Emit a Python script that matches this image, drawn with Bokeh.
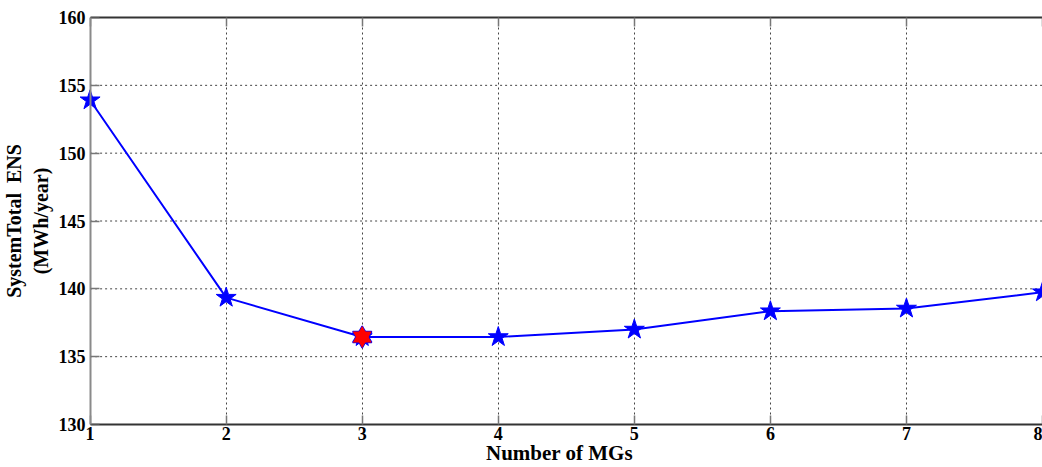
from bokeh.plotting import figure
from bokeh.models import Range1d, FixedTicker, ColumnDataSource, LinearAxis
from bokeh.embed import file_html
from bokeh.resources import INLINE

mgs = [1, 2, 3, 4, 5, 6, 7, 8]
ens = [153.9, 139.35, 136.45, 136.45, 137.0, 138.35, 138.55, 139.75]
best_mg = [3]
best_ens = [136.45]
x_ticks = [1, 2, 3, 4, 5, 6, 7, 8]
y_ticks = [130, 135, 140, 145, 150, 155, 160]

FONT = "Liberation Serif"

p = figure(width=1042, height=467, output_backend="svg", toolbar_location=None,
           x_range=Range1d(0.90, 8), y_range=Range1d(130, 160),
           min_border_left=60, min_border_right=0, min_border_top=17, min_border_bottom=43)

bottom = p.below[0]
left_lbl = p.left[0]

# horizontal grid lines from the first to the last x tick
p.ygrid.visible = False
gsrc = ColumnDataSource(dict(x0=[x_ticks[0]] * len(y_ticks), x1=[x_ticks[-1]] * len(y_ticks),
                             y=y_ticks))
p.segment(x0="x0", x1="x1", y0="y", y1="y", source=gsrc, line_color="#444444",
          line_dash="2 3", line_width=1, level="underlay")

p.line(mgs, ens, line_color="#0000ff", line_width=2)
p.scatter(mgs, ens, marker="star", size=21, fill_color="#0000ff", line_color="#0000ff")

src = ColumnDataSource(dict(x=best_mg, y=best_ens))
for m in ["triangle", "inverted_triangle"]:
    p.scatter("x", "y", source=src, marker=m, size=19, fill_color="#ff0000", line_color="#0000ff", line_width=1.5)
for m in ["triangle", "inverted_triangle"]:
    p.scatter("x", "y", source=src, marker=m, size=19, fill_color="#ff0000", line_color=None)

# top frame line with inward ticks
top = LinearAxis(ticker=FixedTicker(ticks=x_ticks), bounds=(1, 8),
                 major_label_overrides={t: "" for t in x_ticks},
                 major_label_text_font_size="0px", major_label_standoff=0)
p.add_layout(top, "above")

# y axis line + inward ticks drawn at x = 1
yline = LinearAxis(ticker=FixedTicker(ticks=y_ticks), fixed_location=1,
                   major_label_overrides={t: "" for t in y_ticks},
                   major_label_text_font_size="0px", major_label_standoff=0)
p.add_layout(yline, "left")

bottom.ticker = FixedTicker(ticks=x_ticks)
left_lbl.ticker = FixedTicker(ticks=y_ticks)
bottom.axis_label = "Number of MGs"
left_lbl.axis_label = "SystemTotal\u00a0\u00a0ENS\n(MWh/year)"
bottom.bounds = (1, 8)

for ax in [bottom, left_lbl, top, yline]:
    ax.axis_label_text_font = FONT
    ax.axis_label_text_font_style = "bold"
    ax.axis_label_text_color = "#000000"
    ax.major_label_text_font = FONT
    ax.major_label_text_font_style = "bold"
    ax.major_label_text_color = "#000000"
    ax.major_tick_in = 9
    ax.major_tick_out = 0
    ax.minor_tick_line_color = None
    ax.major_tick_line_width = 1.5
    ax.axis_line_width = 2
    ax.major_tick_line_color = "#777777"

bottom.major_label_text_font_size = "18px"
left_lbl.major_label_text_font_size = "18px"
bottom.axis_label_text_font_size = "21px"
left_lbl.axis_label_text_font_size = "20px"

left_lbl.axis_line_color = None
left_lbl.major_tick_line_color = None
left_lbl.major_label_standoff = -9
left_lbl.axis_label_standoff = 4

yline.axis_line_color = "#8a8a8a"
bottom.axis_line_color = "#333333"
top.axis_line_color = "#333333"
bottom.axis_label_standoff = -2
bottom.major_label_standoff = 2

p.xgrid.grid_line_color = "#444444"
p.xgrid.grid_line_dash = "2 3"
p.xgrid.grid_line_width = 1
p.outline_line_color = None
p.background_fill_color = "white"
p.border_fill_color = "white"

open("out.html", "w").write(file_html(p, INLINE))
